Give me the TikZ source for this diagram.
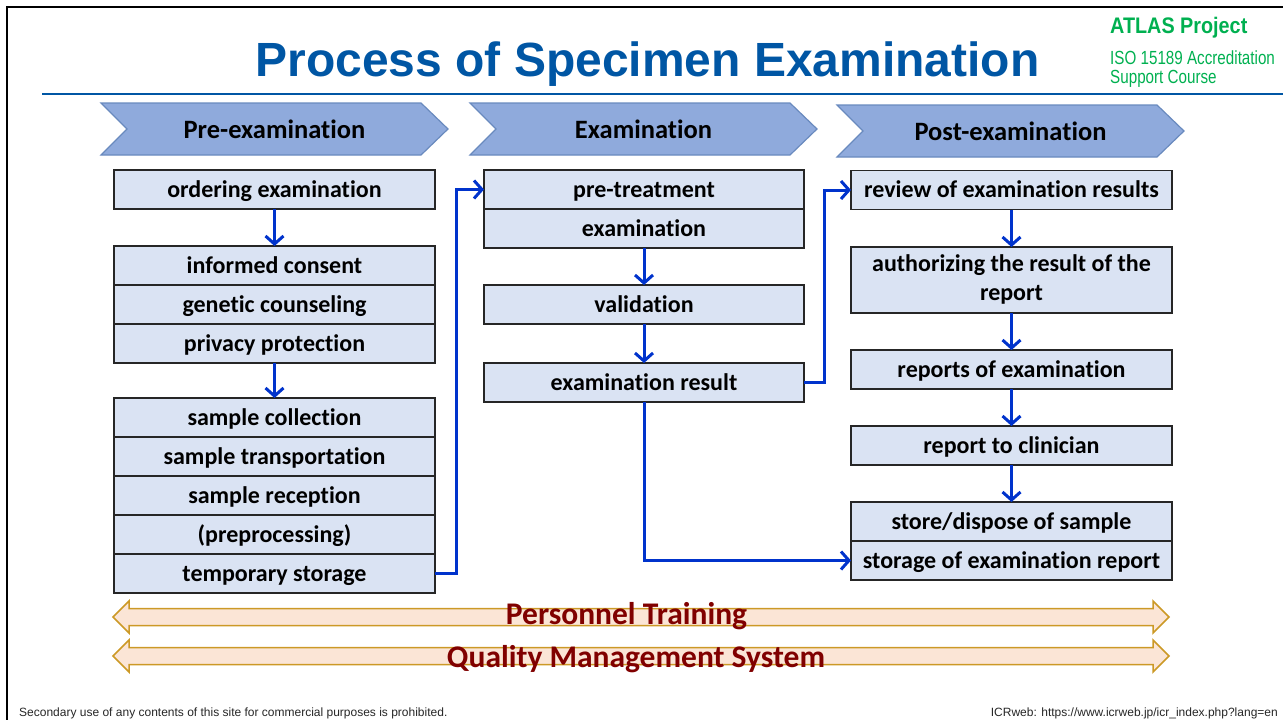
\documentclass[tikz,border=0pt]{standalone}
\usepackage{fontspec}
\setmainfont{Carlito}[Ligatures=NoCommon]
\newfontfamily\headfont{Liberation Sans}
\newfontfamily\atlasfont[FakeStretch=0.88]{Liberation Sans}
\newfontfamily\coursefont[FakeStretch=0.8]{Liberation Sans}
\usetikzlibrary{positioning,arrows.meta}

\definecolor{titleblue}{RGB}{0,86,164}
\definecolor{atlasgreen}{RGB}{0,176,80}
\definecolor{phasefill}{RGB}{143,170,220}
\definecolor{phaseline}{RGB}{105,138,190}
\definecolor{boxfill}{RGB}{218,227,243}
\definecolor{boxline}{RGB}{38,38,38}
\definecolor{flowblue}{RGB}{0,51,204}
\definecolor{bandfill}{RGB}{251,229,214}
\definecolor{bandline}{RGB}{204,153,38}
\definecolor{bandtext}{RGB}{128,0,0}

\tikzset{
  stepbox/.style={draw=boxline, fill=boxfill, line width=1.6pt, minimum width=321pt,
    minimum height=39pt, inner sep=0pt, outer sep=0pt, align=center,
    font=\fontsize{24}{29}\selectfont\bfseries, text height=18pt, text depth=3pt},
  phase/.style={draw=phaseline, fill=phasefill, line width=1.2pt},
  phasetext/.style={font=\fontsize{26.5}{30}\selectfont\bfseries, inner sep=0pt},
  flow/.style={draw=flowblue, line width=3pt, -{Straight Barb[length=8pt,width=18pt]}},
  band/.style={draw=bandline, fill=bandfill, line width=1.5pt},
  bandtitle/.style={font=\fontsize{31.5}{36}\selectfont\bfseries, text=bandtext, anchor=base, inner sep=0pt},
  footer/.style={anchor=base, inner sep=0pt, font=\headfont\fontsize{12}{14}\selectfont, text=black!85},
}

\begin{document}
\begin{tikzpicture}[x=1pt, y=-1pt]
    \useasboundingbox (0,0) rectangle (1283,720);

    % slide frame and heading
    \draw[line width=2.5pt] (7,720) -- (7,7) -- (1283,7);
    \draw[titleblue, line width=2pt] (42,94) -- (1283,94);
    \node[anchor=base, inner sep=0pt, text=titleblue, font=\headfont\bfseries\fontsize{48}{56}\selectfont]
        (title) at (647.5,76) {Process of Specimen Examination};
    \node[anchor=base west, inner sep=0pt, text=atlasgreen, font=\atlasfont\bfseries\fontsize{22.5}{26}\selectfont]
        (atlas) at (1110,33) {ATLAS Project};
    \node[anchor=base west, inner sep=0pt, text=atlasgreen, font=\coursefont\fontsize{19}{19}\selectfont]
        (course) at (1110,64) {ISO 15189 Accreditation};
    \node[anchor=base west, inner sep=0pt, text=atlasgreen, font=\coursefont\fontsize{19}{19}\selectfont]
        (course2) at (1110,83) {Support Course};

    % phase chevrons
    \foreach \x/\y in {101/103, 470/103, 837/105}
        \draw[phase] (\x,\y) -- ++(320,0) -- ++(27,26) -- ++(-27,26) -- ++(-320,0) -- ++(26,-26) -- cycle;
    \node[phasetext] (prehead) at (274.5,129) {Pre-examination};
    \node[phasetext] (examhead) at (643.5,129) {Examination};
    \node[phasetext] (posthead) at (1010.5,131) {Post-examination};

    % pre-examination
    \node[stepbox] (order) at (274.5,189.5) {ordering examination};
    \node[stepbox] (consent) at (274.5,265.5) {informed consent};
    \node[stepbox, below=0pt of consent] (counsel) {genetic counseling};
    \node[stepbox, below=0pt of counsel] (privacy) {privacy protection};
    \node[stepbox] (collect) at (274.5,417.5) {sample collection};
    \node[stepbox, below=0pt of collect] (transport) {sample transportation};
    \node[stepbox, below=0pt of transport] (reception) {sample reception};
    \node[stepbox, below=0pt of reception] (preproc) {(preprocessing)};
    \node[stepbox, below=0pt of preproc] (storage) {temporary storage};

    % examination
    \node[stepbox, minimum width=320pt] (pretreat) at (644,189.5) {pre-treatment};
    \node[stepbox, minimum width=320pt, below=0pt of pretreat] (examine) {examination};
    \node[stepbox, minimum width=320pt] (valid) at (644,304.5) {validation};
    \node[stepbox, minimum width=320pt] (result) at (644,382.5) {examination result};

    % post-examination
    \node[stepbox] (review) at (1011.5,190) {review of examination results};
    \node[stepbox, minimum height=66pt, text height=43pt] (authorize) at (1011.5,280)
        {authorizing the result of the\\report};
    \node[stepbox] (reports) at (1011.5,369.5) {reports of examination};
    \node[stepbox] (clinician) at (1011.5,445.5) {report to clinician};
    \node[stepbox] (dispose) at (1011.5,521.5) {store/dispose of sample};
    \node[stepbox, below=0pt of dispose] (archive) {storage of examination report};

    % flow of the specimen
    \draw[flow] (order) -- (consent);
    \draw[flow] (privacy) -- (collect);
    \draw[flow] (storage.east) -- ++(21,0) |- (pretreat.west);
    \draw[flow] (examine) -- (valid);
    \draw[flow] (valid) -- (result);
    \draw[flow] (result.east) -- ++(20,0) |- (review.west);
    \draw[flow] (result.south) |- (archive.west);
    \draw[flow] (review) -- (authorize);
    \draw[flow] (authorize) -- (reports);
    \draw[flow] (reports) -- (clinician);
    \draw[flow] (clinician) -- (dispose);

    % bands underneath all phases
    \foreach \y in {617, 656}
        \draw[band] (113,\y) -- (129,\y-16) -- (129,\y-8.5) -- (1153,\y-8.5) -- (1153,\y-16)
            -- (1169,\y) -- (1153,\y+16) -- (1153,\y+8.5) -- (129,\y+8.5) -- (129,\y+16) -- cycle;
    \node[bandtitle] (training) at (626.5,624) {Personnel Training};
    \node[bandtitle] (qms) at (636,667) {Quality Management System};

    % footer
    \node[footer, anchor=base west] (notice) at (19,716)
        {Secondary use of any contents of this site for commercial purposes is prohibited.};
    \node[footer, anchor=base east] (source) at (1278,716)
        {ICRweb: https://www.icrweb.jp/icr\_index.php?lang=en};
\end{tikzpicture}
\end{document}
